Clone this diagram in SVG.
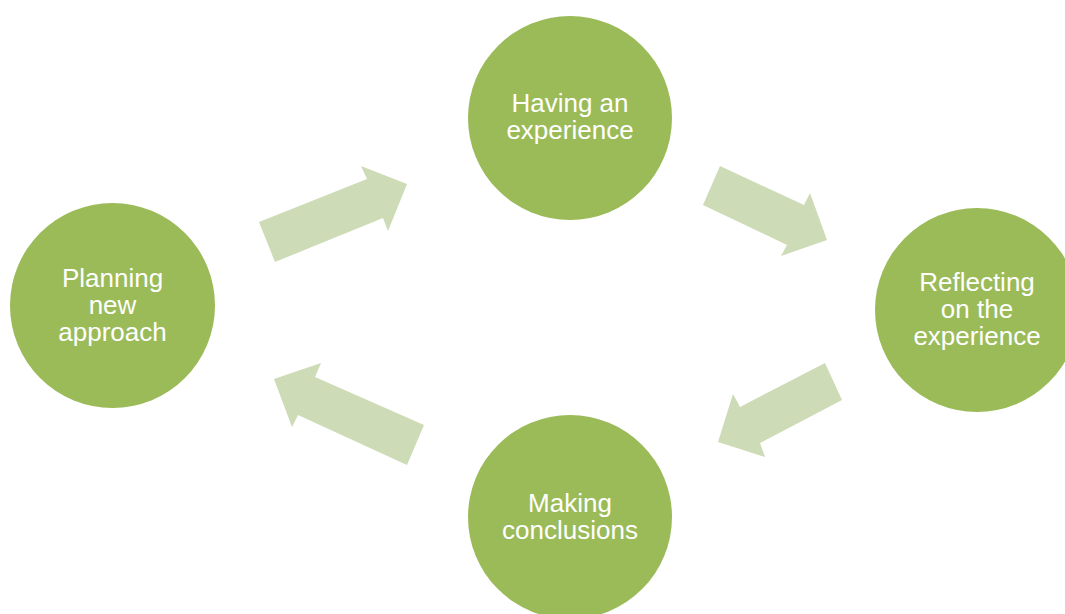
<svg xmlns="http://www.w3.org/2000/svg" width="1065" height="614" viewBox="0 0 1065 614">
  <style>
    .node { fill: #9BBB59; }
    .arrow { fill: #CDDBB6; }
    .label { fill: #FFFFFF; font-family: "Liberation Sans", Arial, sans-serif; font-size: 26px; text-anchor: middle; }
  </style>
  <rect width="1065" height="614" fill="#FFFFFF"/>

  <!-- block arrows between stages -->
  <g id="connectors">
    <polygon class="arrow" points="275,262 259,222 367,179 361,166 407,184 388,231 383,218"/>
    <polygon class="arrow" points="720,166 703,205 787,245 781,256 827,240 810,193 804,205"/>
    <polygon class="arrow" points="825,363 842,400 760,443 765,457 718,442 733,394 740,407"/>
    <polygon class="arrow" points="424,425 407,465 298,415 292,427 274,379 321,363 315,377"/>
  </g>

  <g id="node-experience">
    <circle class="node" cx="570" cy="118" r="102"/>
    <text class="label" x="570" y="112">Having an</text>
    <text class="label" x="570" y="139">experience</text>
  </g>

  <g id="node-reflecting">
    <circle class="node" cx="977" cy="310" r="102"/>
    <text class="label" x="977" y="291">Reflecting</text>
    <text class="label" x="977" y="318">on the</text>
    <text class="label" x="977" y="345">experience</text>
  </g>

  <g id="node-conclusions">
    <circle class="node" cx="570" cy="517" r="102"/>
    <text class="label" x="570" y="512">Making</text>
    <text class="label" x="570" y="539">conclusions</text>
  </g>

  <g id="node-planning">
    <circle class="node" cx="112.5" cy="305.5" r="102.5"/>
    <text class="label" x="112.5" y="287">Planning</text>
    <text class="label" x="112.5" y="314">new</text>
    <text class="label" x="112.5" y="341">approach</text>
  </g>
</svg>
